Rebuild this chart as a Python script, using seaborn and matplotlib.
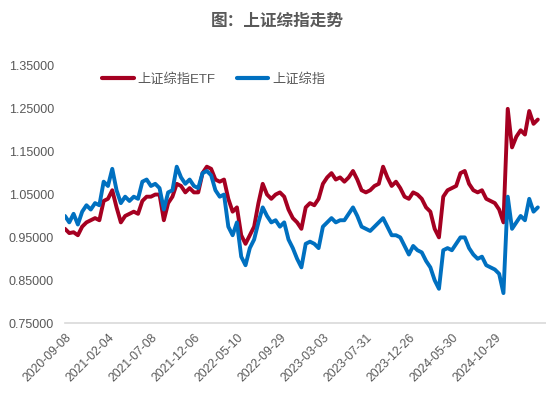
import matplotlib
matplotlib.use("Agg")
import matplotlib.pyplot as plt
import numpy as np
import pandas as pd
import seaborn as sns

# values, one sample about every 10 trading days
INDEX_NAME = "上证综指"
ETF_NAME = "上证综指ETF"

index_values = [
    1.000, 0.985, 1.005, 0.980, 1.010, 1.025, 1.015, 1.030, 1.025, 1.080,
    1.070, 1.110, 1.060, 1.030, 1.045, 1.035, 1.045, 1.040, 1.080, 1.085,
    1.070, 1.075, 1.065, 1.015, 1.055, 1.060, 1.115, 1.090, 1.075, 1.085,
    1.070, 1.065, 1.100, 1.105, 1.095, 1.060, 1.045, 1.050, 0.975, 0.955,
    0.985, 0.905, 0.885, 0.925, 0.945, 0.985, 1.020, 1.000, 0.985, 0.990,
    0.975, 0.985, 0.945, 0.925, 0.900, 0.880, 0.935, 0.940, 0.935, 0.925,
    0.975, 0.985, 0.995, 0.985, 0.990, 0.990, 1.005, 1.020, 1.000, 0.975,
    0.970, 0.965, 0.975, 0.985, 0.995, 0.975, 0.955, 0.955, 0.950, 0.930,
    0.910, 0.930, 0.920, 0.915, 0.895, 0.880, 0.850, 0.830, 0.920, 0.925,
    0.920, 0.935, 0.950, 0.950, 0.925, 0.910, 0.900, 0.905, 0.885, 0.880,
    0.875, 0.865, 0.820, 1.045, 0.970, 0.985, 1.000, 0.990, 1.040, 1.010,
    1.020,
]

etf_values = [
    0.970, 0.960, 0.962, 0.955, 0.975, 0.985, 0.990, 0.995, 0.990, 1.035,
    1.040, 1.060, 1.020, 0.985, 1.000, 1.005, 1.010, 1.005, 1.035, 1.045,
    1.045, 1.050, 1.050, 0.990, 1.030, 1.045, 1.075, 1.070, 1.055, 1.065,
    1.055, 1.055, 1.100, 1.115, 1.110, 1.085, 1.080, 1.085, 1.040, 1.010,
    1.020, 0.955, 0.935, 0.955, 0.975, 1.030, 1.075, 1.050, 1.040, 1.050,
    1.055, 1.045, 1.015, 0.995, 0.985, 0.970, 1.020, 1.030, 1.025, 1.040,
    1.075, 1.090, 1.100, 1.085, 1.090, 1.080, 1.090, 1.105, 1.085, 1.060,
    1.055, 1.060, 1.070, 1.075, 1.115, 1.090, 1.070, 1.080, 1.065, 1.045,
    1.040, 1.055, 1.050, 1.040, 1.020, 1.010, 0.970, 0.950, 1.045, 1.060,
    1.065, 1.070, 1.100, 1.105, 1.075, 1.060, 1.055, 1.060, 1.040, 1.035,
    1.030, 1.015, 0.985, 1.250, 1.160, 1.185, 1.200, 1.190, 1.245, 1.215,
    1.225,
]

tick_dates = [
    "2020-09-08", "2021-02-04", "2021-07-08", "2021-12-06", "2022-05-10",
    "2022-09-29", "2023-03-03", "2023-07-31", "2023-12-26", "2024-05-30",
    "2024-10-29",
]
y_ticks = [0.75, 0.85, 0.95, 1.05, 1.15, 1.25, 1.35]

RED = "#A50021"
BLUE = "#0070C0"
GREY = "#595959"


def build_frame() -> pd.DataFrame:
    step = np.arange(len(index_values))
    wide = pd.DataFrame({"step": step, ETF_NAME: etf_values, INDEX_NAME: index_values})
    return wide.melt(id_vars="step", var_name="series", value_name="value")


def main() -> None:
    sns.set_theme(style="white")
    plt.rcParams["font.family"] = ["Liberation Sans", "Noto Sans CJK SC", "DejaVu Sans"]

    fig = plt.figure(figsize=(5.46, 3.94), dpi=100)
    ax = fig.add_axes([0.119, 0.180, 0.881, 0.6525])

    data = build_frame()
    sns.lineplot(
        data=data, x="step", y="value", hue="series",
        hue_order=[ETF_NAME, INDEX_NAME],
        palette={ETF_NAME: RED, INDEX_NAME: BLUE},
        linewidth=2.8, ax=ax, legend=False,
    )

    ax.set_xlim(0, 111.9)
    ax.set_ylim(0.75, 1.35)
    ax.set_yticks(y_ticks)
    ax.set_yticklabels([f"{v:.5f}" for v in y_ticks], fontsize=9, color=GREY)
    ax.set_xticks(range(0, 10 * len(tick_dates), 10))
    ax.set_xticklabels(tick_dates, rotation=45, ha="right", rotation_mode="anchor",
                       fontsize=8.8, color=GREY)
    ax.tick_params(axis="both", length=0)
    ax.tick_params(axis="x", pad=6)
    ax.tick_params(axis="y", pad=8)
    ax.set_xlabel("")
    ax.set_ylabel("")

    for side in ("top", "right", "left"):
        ax.spines[side].set_visible(False)
    ax.spines["bottom"].set_color("#D9D9D9")
    ax.spines["bottom"].set_linewidth(1.2)

    handles = [
        plt.Line2D([], [], color=RED, linewidth=3),
        plt.Line2D([], [], color=BLUE, linewidth=3),
    ]
    leg = ax.legend(
        handles, [ETF_NAME, INDEX_NAME], loc="center left",
        bbox_to_anchor=(0.077, 0.949), ncol=2, frameon=False,
        fontsize=9.5, handlelength=2.4, handletextpad=0.3,
        columnspacing=1.6, borderpad=0, borderaxespad=0,
    )
    for text in leg.get_texts():
        text.set_color(GREY)

    fig.text(0.508, 0.948, "图：上证综指走势", ha="center", va="center",
             fontsize=12, fontweight="bold", color=GREY,
             family=["Noto Sans CJK SC", "DejaVu Sans"])

    fig.savefig("out.png", dpi=100)
    plt.close(fig)


if __name__ == "__main__":
    main()
